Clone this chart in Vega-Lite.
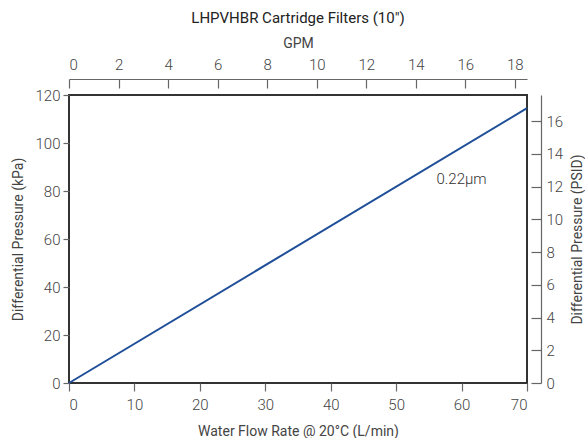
{
  "$schema": "https://vega.github.io/schema/vega-lite/v6.json",
  "width": 458,
  "height": 288,
  "padding": {"left": 11, "top": 11, "right": 0, "bottom": 0},
  "background": "white",
  "title": {"text": "LHPVHBR Cartridge Filters (10″)", "font": "Roboto", "fontSize": 15, "fontWeight": "normal", "color": "#222", "offset": 10},
  "config": {
    "view": {"stroke": "#333", "strokeWidth": 2},
    "font": "Roboto",
    "axis": {"labelFont": "Roboto", "titleFont": "Roboto", "labelFontSize": 15, "titleFontSize": 14, "labelColor": "#444", "titleColor": "#444", "titleFontWeight": "normal", "tickColor": "#666", "domainColor": "#666", "grid": false, "labelFontWeight": 300, "tickWidth": 1.2, "domainWidth": 1.2}
  },
  "datasets": {
    "curve": [{"flow": 0, "kpa": 0}, {"flow": 70, "kpa": 114.5}],
    "label": [{"flow": 60, "kpa": 85, "text": "0.22µm"}],
    "secondary": [{"gpm": 0, "psi": 0}, {"gpm": 18.49, "psi": 17.6}]
  },
  "layer": [
    {
      "data": {"name": "curve"},
      "mark": {"type": "line", "color": "#1f4e99", "strokeWidth": 2},
      "encoding": {
        "x": {"field": "flow", "type": "quantitative", "scale": {"domain": [0, 70], "nice": false},
          "axis": {"title": "Water Flow Rate @ 20°C (L/min)", "values": [0,10,20,30,40,50,60,70], "domain": false, "tickSize": 8, "labelPadding": 6, "titlePadding": 12}},
        "y": {"field": "kpa", "type": "quantitative", "scale": {"domain": [0, 120], "nice": false},
          "axis": {"title": "Differential Pressure (kPa)", "values": [0,20,40,60,80,100,120], "domain": false, "tickSize": 6, "labelPadding": 3, "titlePadding": 10}}
      }
    },
    {
      "data": {"name": "label"},
      "mark": {"type": "text", "font": "Roboto", "fontSize": 15, "color": "#333", "fontWeight": 300},
      "encoding": {
        "x": {"field": "flow", "type": "quantitative", "scale": {"domain": [0, 70], "nice": false}, "axis": null},
        "y": {"field": "kpa", "type": "quantitative", "scale": {"domain": [0, 120], "nice": false}, "axis": null},
        "text": {"field": "text"}
      }
    },
    {
      "data": {"name": "secondary"},
      "mark": {"type": "point", "opacity": 0},
      "encoding": {
        "x": {"field": "gpm", "type": "quantitative", "scale": {"domain": [0, 18.49], "nice": false},
          "axis": {"orient": "top", "title": "GPM", "values": [0,2,4,6,8,10,12,14,16,18], "offset": 16, "tickSize": -9, "labelPadding": 16, "titlePadding": 7}},
        "y": {"field": "psi", "type": "quantitative", "scale": {"domain": [0, 17.6], "nice": false},
          "axis": {"orient": "right", "title": "Differential Pressure (PSID)", "titleAngle": 270, "titleBaseline": "top", "values": [0,2,4,6,8,10,12,14,16], "offset": 14, "tickSize": -10, "labelPadding": 15, "titlePadding": 8}}
      }
    }
  ],
  "resolve": {"scale": {"x": "independent", "y": "independent"}}
}
